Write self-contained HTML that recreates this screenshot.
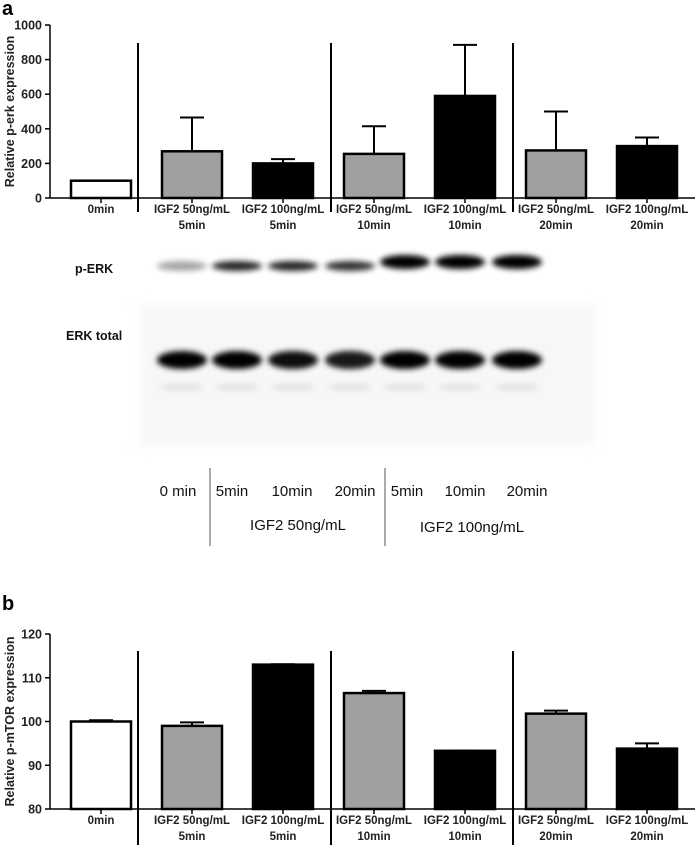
<!DOCTYPE html>
<html><head><meta charset="utf-8"><style>
body{margin:0;background:#fff;}
svg text{font-family:"Liberation Sans",sans-serif;}
</style></head><body>
<svg width="697" height="850" xmlns="http://www.w3.org/2000/svg">
<defs>
<filter id="bl" x="-50%" y="-100%" width="200%" height="300%"><feGaussianBlur stdDeviation="3"/></filter>
<filter id="bl2" x="-20%" y="-20%" width="140%" height="140%"><feGaussianBlur stdDeviation="6"/></filter>
</defs>
<g id="chartA"></g>
<g id="blot">
<rect x="140" y="305" width="455" height="140" fill="#f7f7f7" filter="url(#bl2)"/>
<text x="75" y="273" font-size="12.5" font-weight="bold" fill="#111">p-ERK</text>
<text x="66" y="340" font-size="12.5" font-weight="bold" fill="#111">ERK total</text>
<g id="lanes"></g>
<line x1="210" y1="468" x2="210" y2="546" stroke="#555" stroke-width="1"/>
<line x1="385" y1="468" x2="385" y2="546" stroke="#555" stroke-width="1"/>
<text x="298" y="530" font-size="15" text-anchor="middle" fill="#111">IGF2 50ng/mL</text>
<text x="472" y="532" font-size="15" text-anchor="middle" fill="#111">IGF2 100ng/mL</text>
</g>
<g id="chartB"></g>
</svg>
<script>
const categories=["0min","IGF2 50ng/mL|5min","IGF2 100ng/mL|5min","IGF2 50ng/mL|10min","IGF2 100ng/mL|10min","IGF2 50ng/mL|20min","IGF2 100ng/mL|20min"];
const fills=["#fff","#a0a0a0","#000","#a0a0a0","#000","#a0a0a0","#000"];
const erkValues=[100,270,200,255,590,275,300];
const erkErrors=[0,195,25,160,295,225,50];
const erkTicks=[0,200,400,600,800,1000];
const mtorValues=[100,99,113,106.5,93.3,101.8,93.8];
const mtorErrors=[0.3,0.8,0.1,0.5,0.05,0.7,1.2];
const mtorTicks=[80,90,100,110,120];
const laneLabels=["0 min","5min","10min","20min","5min","10min","20min"];
const pErkIntensity=[0.35,0.85,0.85,0.8,1,1,1];
const erkIntensity=[1,1,0.95,0.9,1,1,1];
const NS="http://www.w3.org/2000/svg";
function mk(parent,tag,attrs){const e=document.createElementNS(NS,tag);for(const k in attrs)e.setAttribute(k,attrs[k]);parent.appendChild(e);return e;}
function xPos(i){return 101+91*i;}
function drawChart(g,opt){
  const yS=v=>opt.y0+(v-opt.min)/(opt.max-opt.min)*(opt.y1-opt.y0);
  const lbl=mk(g,'text',{x:0,y:0,'font-size':12.5,'font-weight':'bold','text-anchor':'middle',fill:'#222',transform:`translate(14,${(opt.y0+opt.y1)/2}) rotate(-90)`});
  lbl.textContent=opt.title;
  
  
  const pl=mk(g,'text',{x:2,y:opt.panelY,'font-size':20,'font-weight':'bold'});pl.textContent=opt.panel;
  
  
  const ya=mk(g,'line',{x1:50,y1:opt.y0,x2:50,y2:opt.y1,stroke:'#000','stroke-width':1.5});
  
  
  const xa=mk(g,'line',{x1:50,y1:opt.y0,x2:695,y2:opt.y0,stroke:'#000','stroke-width':1.5});
  
  
  opt.ticks.forEach(t=>{const y=yS(t);
    mk(g,'line',{x1:45,y1:y,x2:50,y2:y,stroke:'#000','stroke-width':1.5});
    const tx=mk(g,'text',{x:42,y:y+4.5,'font-size':12.5,'font-weight':'bold','text-anchor':'end',fill:'#222'});tx.textContent=t;
    
    });
  [138,331,513].forEach(x=>{const s=mk(g,'line',{x1:x,y1:opt.sepTop,x2:x,y2:opt.sepBot,stroke:'#000','stroke-width':2});
    
    });
  opt.values.forEach((v,i)=>{const cx=xPos(i),y=yS(v),ye=yS(v+opt.errors[i]);
    if(opt.errors[i]>0){mk(g,'line',{x1:cx,y1:y,x2:cx,y2:ye,stroke:'#000','stroke-width':2});
      mk(g,'line',{x1:cx-12,y1:ye,x2:cx+12,y2:ye,stroke:'#000','stroke-width':2});}
    const b=mk(g,'rect',{x:cx-30,y:y,width:60,height:opt.y0-y,fill:fills[i],stroke:'#000','stroke-width':2.5});
    
    
    mk(g,'line',{x1:cx,y1:opt.y0,x2:cx,y2:opt.y0+5,stroke:'#000','stroke-width':1.5});
    categories[i].split('|').forEach((ln,k)=>{const t=mk(g,'text',{x:cx,y:opt.y0+15+k*16,'font-size':11.5,'font-weight':'bold','text-anchor':'middle',fill:'#222'});t.textContent=ln;
      
      });
  });
}
drawChart(document.getElementById('chartA'),{title:'Relative p-erk expression',panel:'a',panelY:15,y0:198,y1:25,min:0,max:1000,ticks:erkTicks,values:erkValues,errors:erkErrors,sepTop:43,sepBot:212});
drawChart(document.getElementById('chartB'),{title:'Relative p-mTOR expression',panel:'b',panelY:610,y0:809,y1:634,min:80,max:120,ticks:mtorTicks,values:mtorValues,errors:mtorErrors,sepTop:651,sepBot:845});
const lanes=document.getElementById('lanes');
const laneX=[182,237,293,350,405,460,517];
const labelX=[178,232,292,355,407,465,527];
laneLabels.forEach((l,i)=>{const x=laneX[i];
  const p=mk(lanes,'ellipse',{cx:x,cy:i>=4?262:266,rx:25,ry:i>=4?7:5,fill:'#000','fill-opacity':pErkIntensity[i],filter:'url(#bl)'});
  
  
  const e=mk(lanes,'ellipse',{cx:x,cy:360,rx:25,ry:9,fill:'#000','fill-opacity':erkIntensity[i],filter:'url(#bl)'});
  
  
  mk(lanes,'ellipse',{cx:x,cy:387,rx:22,ry:3,fill:'#000','fill-opacity':0.1,filter:'url(#bl)'});
  const t=mk(lanes,'text',{x:labelX[i],y:496,'font-size':15,'text-anchor':'middle',fill:'#111'});t.textContent=l;
  
  
});
</script>
</body></html>
